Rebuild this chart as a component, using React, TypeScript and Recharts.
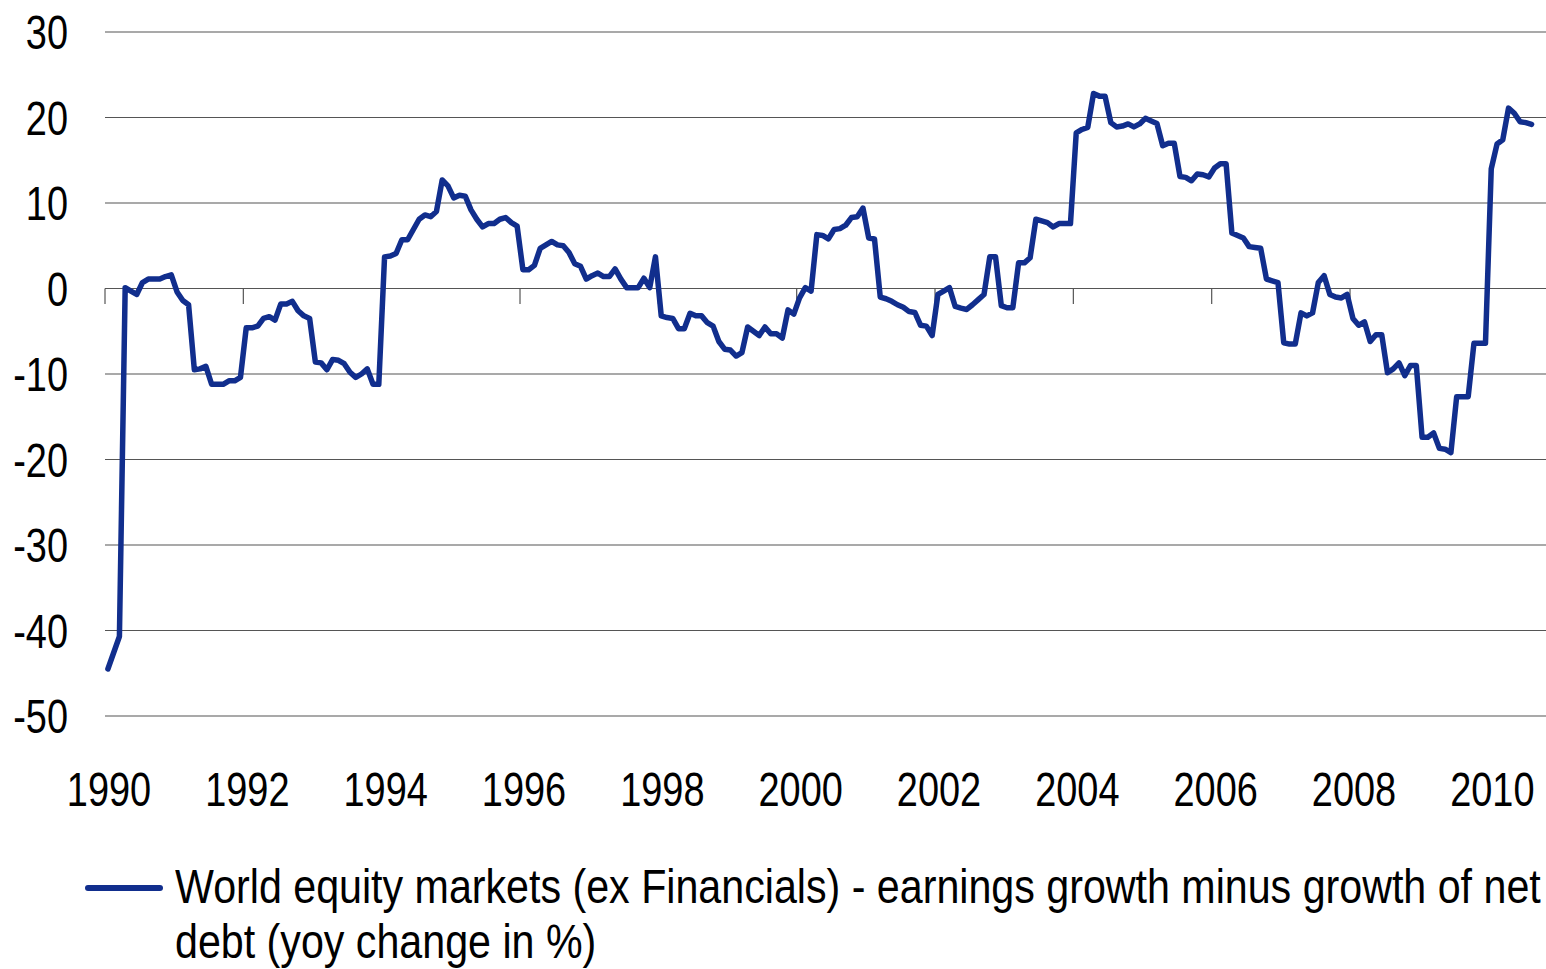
import { LineChart, Line, XAxis, YAxis, CartesianGrid, ReferenceLine, Legend } from 'recharts';

const FONT = '"Liberation Sans", Arial, sans-serif';
const NARROW = 0.79; // the reference uses a narrow face, squeeze a regular one
const LEGEND_NARROW = 0.858;
const LINE_COLOR = '#112e8d';
const GRID_COLOR = '#555555';

const startYear = 1990;
const monthsOnAxis = 250; // Jan 1990 .. Oct 2010
const yearTicks = [1990, 1992, 1994, 1996, 1998, 2000, 2002, 2004, 2006, 2008, 2010];
const valueTicks = [-50, -40, -30, -20, -10, 0, 10, 20, 30];
const seriesName = 'World equity markets (ex Financials) - earnings growth minus growth of net debt (yoy change in %)';

// monthly readings, Jan 1990 onwards
const monthlyValues = [
    -44.5, -42.6, -40.7, 0.1, -0.3, -0.7, 0.7, 1.1, 1.1, 1.1, 1.4, 1.6,
    -0.4, -1.4, -1.9, -9.5, -9.4, -9.1, -11.2, -11.2, -11.2, -10.8, -10.8, -10.4,
    -4.6, -4.6, -4.4, -3.5, -3.3, -3.7, -1.8, -1.8, -1.5, -2.6, -3.2, -3.5,
    -8.6, -8.7, -9.5, -8.3, -8.4, -8.8, -9.8, -10.4, -10.0, -9.4, -11.2, -11.2,
    3.7, 3.8, 4.1, 5.7, 5.7, 6.9, 8.1, 8.6, 8.4, 9.0, 12.7, 12.0,
    10.6, 10.9, 10.8, 9.2, 8.1, 7.2, 7.6, 7.6, 8.1, 8.3, 7.7, 7.3,
    2.2, 2.2, 2.7, 4.7, 5.1, 5.5, 5.1, 5.0, 4.2, 2.9, 2.6, 1.1,
    1.5, 1.8, 1.4, 1.4, 2.3, 1.1, 0.1, 0.1, 0.1, 1.2, 0.1, 3.7,
    -3.2, -3.4, -3.5, -4.7, -4.7, -2.9, -3.2, -3.2, -4.0, -4.4, -6.2, -7.1,
    -7.2, -7.9, -7.5, -4.5, -5.0, -5.5, -4.5, -5.3, -5.3, -5.8, -2.5, -3.0,
    -1.1, 0.1, -0.3, 6.3, 6.2, 5.8, 6.9, 7.0, 7.4, 8.3, 8.4, 9.4,
    5.9, 5.8, -1.0, -1.2, -1.5, -1.9, -2.2, -2.7, -2.8, -4.3, -4.4, -5.5,
    -0.7, -0.3, 0.1, -2.1, -2.3, -2.45, -1.9, -1.3, -0.7, 3.7, 3.7, -2.0,
    -2.25, -2.25, 3.0, 3.0, 3.6, 8.1, 7.9, 7.7, 7.2, 7.6, 7.6, 7.6,
    18.2, 18.6, 18.85, 22.8, 22.5, 22.5, 19.4, 18.9, 19.0, 19.25, 18.9, 19.25,
    19.9, 19.6, 19.3, 16.7, 17.0, 17.0, 13.1, 13.0, 12.6, 13.4, 13.3, 13.05,
    14.1, 14.6, 14.6, 6.5, 6.2, 5.9, 4.9, 4.8, 4.7, 1.1, 0.9, 0.7,
    -6.35, -6.5, -6.5, -2.85, -3.2, -2.85, 0.7, 1.5, -0.7, -1.0, -1.1, -0.7,
    -3.5, -4.3, -3.9, -6.2, -5.4, -5.4, -9.85, -9.4, -8.7, -10.2, -9.0, -9.0,
    -17.4, -17.4, -16.9, -18.7, -18.8, -19.2, -12.65, -12.65, -12.65, -6.4, -6.4, -6.4,
    14.0, 16.9, 17.4, 21.1, 20.5, 19.5, 19.4, 19.2,
];

const data = monthlyValues.map((v, i) => ({ t: startYear + (i + 0.5) / 12, value: v }));

// squeezed tick text, scaled round its anchor point
const NarrowTick = ({ x, y, payload, textAnchor, dy, dx = 0 }: any) => {
    const ax = x + dx;
    return (
        <text
            x={ax}
            y={y}
            dy={dy}
            textAnchor={textAnchor}
            fill="#000"
            fontSize={48}
            fontFamily={FONT}
            transform={`translate(${ax},${y}) scale(${NARROW},1) translate(${-ax},${-y})`}
        >
            {payload.value}
        </text>
    );
};

const renderLegend = () => (
    <div style={{ display: 'flex', alignItems: 'flex-start', fontFamily: FONT, fontSize: 48, lineHeight: '55px', color: '#000' }}>
        <div style={{ width: 78, height: 6, borderRadius: 3, background: LINE_COLOR, marginTop: 26, marginRight: 12, flexShrink: 0 }} />
        <div style={{ width: 1385 / LEGEND_NARROW, flexShrink: 0, transform: `scaleX(${LEGEND_NARROW})`, transformOrigin: 'left top' }}>
            {seriesName}
        </div>
    </div>
);

export default function App() {
    return (
        <div style={{ position: 'absolute', left: 0, top: 0, width: 1546, height: 969, background: '#fff', overflow: 'hidden' }}>
            <LineChart width={1546} height={969} data={data} margin={{ top: 32, right: 0, left: 0, bottom: 0 }}>
                <CartesianGrid vertical={false} stroke={GRID_COLOR} strokeWidth={1.2} />
                <XAxis
                    type="number"
                    dataKey="t"
                    domain={[startYear, startYear + monthsOnAxis / 12]}
                    ticks={yearTicks}
                    interval={0}
                    axisLine={false}
                    tickLine={false}
                    tickMargin={50}
                    height={253}
                    tick={(props: any) => <NarrowTick {...props} dy="0.71em" dx={4} />}
                />
                <YAxis
                    domain={[-50, 30]}
                    ticks={valueTicks}
                    interval={0}
                    axisLine={false}
                    tickLine={false}
                    width={105}
                    tickMargin={31}
                    tick={(props: any) => <NarrowTick {...props} dy="0.355em" />}
                />
                {yearTicks.map((yr) => (
                    <ReferenceLine
                        key={yr}
                        segment={[{ x: yr, y: 0 }, { x: yr, y: -1.8 }]}
                        stroke={GRID_COLOR}
                        strokeWidth={1.2}
                        ifOverflow="visible"
                    />
                ))}
                <Legend
                    verticalAlign="middle"
                    align="center"
                    layout="horizontal"
                    content={renderLegend}
                    wrapperStyle={{ top: 859, left: 85, width: 1461 }}
                />
                <Line
                    type="linear"
                    dataKey="value"
                    name={seriesName}
                    stroke={LINE_COLOR}
                    strokeWidth={5.5}
                    strokeLinejoin="round"
                    strokeLinecap="round"
                    dot={false}
                    isAnimationActive={false}
                />
            </LineChart>
        </div>
    );
}
